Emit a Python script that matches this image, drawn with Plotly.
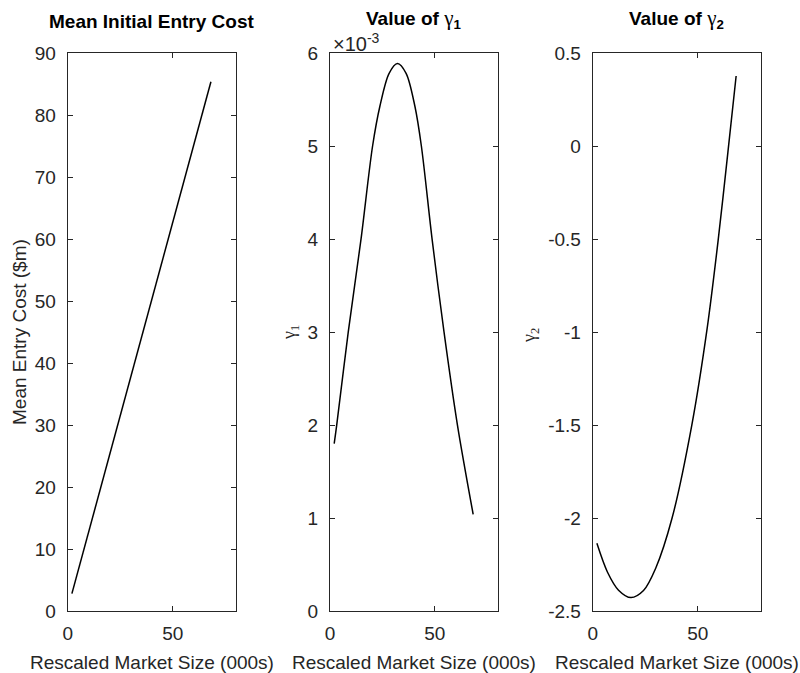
import plotly.graph_objects as go

# Mean initial entry cost against rescaled market size
market_size_cost = [2.0, 68.2]
mean_entry_cost = [2.8, 85.4]

# gamma_1 (axis labelled in units of 1e-3)
market_size_g1 = [2.0, 3.2, 8.7, 14.8, 20.3, 23.8, 28.2, 32.2, 36.3, 40.5, 43.6, 48.7, 54.4, 60.8, 68.3]
gamma1 = [1.80e-3, 2.00e-3, 3.00e-3, 4.00e-3, 5.00e-3, 5.43e-3, 5.785e-3, 5.89e-3,
          5.785e-3, 5.43e-3, 5.00e-3, 4.00e-3, 3.00e-3, 2.00e-3, 1.04e-3]

# gamma_2
market_size_g2 = [2.0, 7.0, 12.3, 18.2, 24.2, 30.0, 37.8, 47.2, 54.5, 59.8, 64.4, 68.3]
gamma2 = [-2.136, -2.29, -2.388, -2.428, -2.39, -2.27, -2.0, -1.5, -0.98, -0.5, -0.03, 0.378]

x_ticks = [0, 50]
cost_ticks = list(range(0, 91, 10))
g1_ticks = [0, 1e-3, 2e-3, 3e-3, 4e-3, 5e-3, 6e-3]
g1_ticktext = ["0", "1", "2", "3", "4", "5", "6"]
g2_ticks = [-2.5, -2.0, -1.5, -1.0, -0.5, 0.0, 0.5]
g2_ticktext = ["-2.5", "-2", "-1.5", "-1", "-0.5", "0", "0.5"]

W, H = 800, 673
INK = "#262626"
FONT = "Liberation Sans"
FS = 19

# panel boxes in pixels (left, right); shared top/bottom
panels_px = [(67.7, 235.7), (330.0, 497.7), (592.7, 760.7)]
top_px, bottom_px = 53.3, 611.0
ydom = [1 - bottom_px / H, 1 - top_px / H]

fig = go.Figure()
line = dict(color="black", width=1.5)
fig.add_trace(go.Scatter(x=market_size_cost, y=mean_entry_cost, mode="lines",
                         line=line, xaxis="x", yaxis="y", showlegend=False))
fig.add_trace(go.Scatter(x=market_size_g1, y=gamma1, mode="lines",
                         line=dict(line, shape="spline", smoothing=0.9),
                         xaxis="x2", yaxis="y2", showlegend=False))
fig.add_trace(go.Scatter(x=market_size_g2, y=gamma2, mode="lines",
                         line=dict(line, shape="spline", smoothing=0.9),
                         xaxis="x3", yaxis="y3", showlegend=False))

common = dict(showline=True, linecolor=INK, linewidth=1, mirror="ticks",
              ticks="inside", ticklen=5, tickcolor=INK, tickwidth=1,
              showgrid=False, zeroline=False, automargin=False,
              tickfont=dict(family=FONT, size=FS, color=INK))

layout = dict(width=W, height=H, margin=dict(l=0, r=0, t=0, b=0, pad=0),
              plot_bgcolor="white", paper_bgcolor="white")

y_specs = [
    dict(range=[0, 90], tickvals=cost_ticks),
    dict(range=[0, 0.006], tickvals=g1_ticks, ticktext=g1_ticktext),
    dict(range=[-2.5, 0.5], tickvals=g2_ticks, ticktext=g2_ticktext),
]
for i, (l, r) in enumerate(panels_px):
    sx = "" if i == 0 else str(i + 1)
    layout["xaxis" + sx] = dict(common, domain=[l / W, r / W], range=[0, 80],
                                tickvals=x_ticks, anchor="y" + sx,
                                ticklabelstandoff=5)
    layout["yaxis" + sx] = dict(common, domain=ydom, anchor="x" + sx,
                                ticklabelstandoff=7, **y_specs[i])

fig.update_layout(**layout)


def px(x, y):
    return x / W, 1 - y / H


anns = []
centers = [(l + r) / 2 for l, r in panels_px]
greek = "font-family:'Liberation Serif'; font-weight:normal; font-size:21px"
titles = [
    ("<b>Mean Initial Entry Cost</b>", 22),
    ("<b>Value of </b><span style=\"" + greek + "\">γ</span><sub><b>1</b></sub>", 19),
    ("<b>Value of </b><span style=\"" + greek + "\">γ</span><sub><b>2</b></sub>", 19),
]
for c, (t, ty) in zip(centers, titles):
    x, y = px(c, ty)
    anns.append(dict(text=t, x=x, y=y, xref="paper", yref="paper", showarrow=False,
                     xanchor="center", yanchor="middle",
                     font=dict(family=FONT, size=FS, color="black")))
for c in centers:
    x, y = px(c, 662)
    anns.append(dict(text="Rescaled Market Size (000s)", x=x, y=y, xref="paper", yref="paper",
                     showarrow=False, xanchor="center", yanchor="middle",
                     font=dict(family=FONT, size=FS, color=INK)))

ylabels = [
    ("Mean Entry Cost ($m)", 19, 332, FONT, FS),
    ("γ<sub>1</sub>", 290, 333, "Liberation Serif", 18),
    ("γ<sub>2</sub>", 530, 336, "Liberation Serif", 18),
]
for t, lx, ly, fam, fs in ylabels:
    x, y = px(lx, ly)
    anns.append(dict(text=t, x=x, y=y, xref="paper", yref="paper", showarrow=False,
                     xanchor="center", yanchor="middle", textangle=-90,
                     font=dict(family=fam, size=fs, color=INK)))

# axis exponent for gamma_1
x, y = px(331, 57)
anns.append(dict(text="×10<sup>-3</sup>", x=x, y=y, xref="paper", yref="paper",
                 showarrow=False, xanchor="left", yanchor="bottom",
                 font=dict(family=FONT, size=20, color=INK)))

fig.update_layout(annotations=anns)
fig.write_html("out.html")
